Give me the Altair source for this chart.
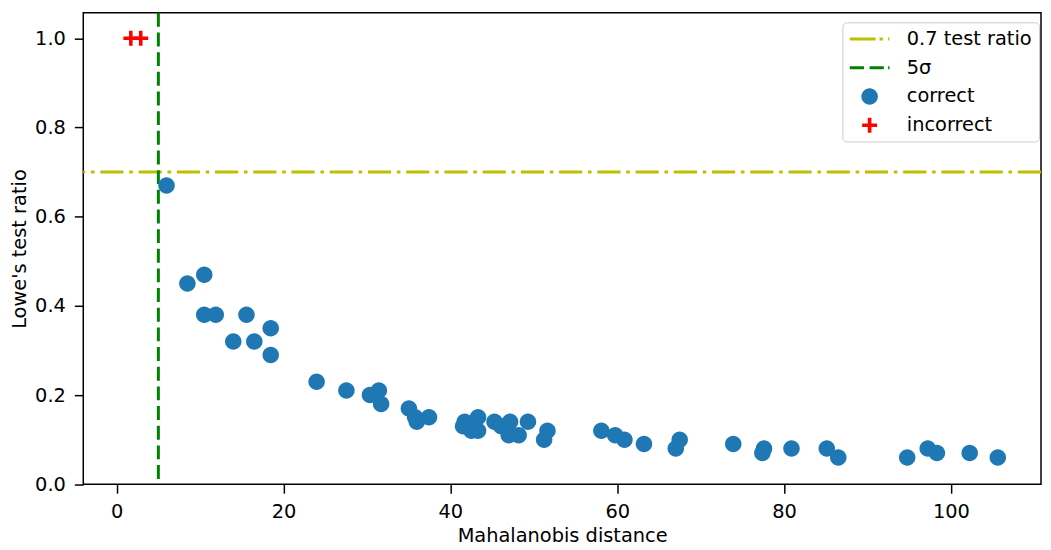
import altair as alt
import pandas as pd

# ---- data ----
correct_x = [5.98, 8.48, 10.5, 10.5, 11.88, 15.56, 13.98, 16.5, 18.47, 18.47,
             23.97, 27.54, 30.36, 31.43, 31.7, 35.03, 35.98, 35.78, 37.44,
             41.53, 41.72, 42.52, 43.32, 43.32, 45.29, 46.09, 47.16, 47.0, 48.19, 49.3, 51.64, 51.24,
             58.1, 59.76, 60.87, 63.21, 67.49, 67.02,
             73.91, 77.6, 77.4, 80.89, 85.12, 86.5,
             94.76, 97.22, 98.32, 102.25, 105.62]
correct_y = [0.67, 0.45, 0.47, 0.38, 0.38, 0.38, 0.32, 0.32, 0.35, 0.29,
             0.23, 0.21, 0.20, 0.21, 0.18, 0.17, 0.14, 0.15, 0.15,
             0.13, 0.14, 0.12, 0.12, 0.15, 0.14, 0.13, 0.14, 0.11, 0.11, 0.14, 0.12, 0.10,
             0.12, 0.11, 0.10, 0.09, 0.10, 0.08,
             0.09, 0.08, 0.07, 0.08, 0.08, 0.06,
             0.06, 0.08, 0.07, 0.07, 0.06]
incorrect_x = [1.70, 2.89]
incorrect_y = [1.0, 1.0]
ratio_threshold = [0.7]
sigma_threshold = [5.0]

series_names = ["0.7 test ratio", "5σ", "correct", "incorrect"]
series_colors = ["#bfbf00", "#008000", "#1f77b4", "#ff0000"]
x_ticks = [0, 20, 40, 60, 80, 100]
y_ticks = [0.0, 0.2, 0.4, 0.6, 0.8, 1.0]

# legend glyphs (custom symbol paths)
series_shapes = [
    "M-2,-0.15H0.6V0.15H-2Z M1.0,-0.15H1.33V0.15H1.0Z M1.86,-0.15H2V0.15H1.86Z",
    "M-2,-0.15H-0.57V0.15H-2Z M0,-0.15H1.43V0.15H0Z M1.86,-0.15H2V0.15H1.86Z",
    "M-0.83,0A0.83,0.83,0,1,1,0.83,0A0.83,0.83,0,1,1,-0.83,0Z",
    "M-0.75,-0.18H-0.18V-0.75H0.18V-0.18H0.75V0.18H0.18V0.75H-0.18V0.18H-0.75Z",
]

pts = pd.DataFrame({
    "x": correct_x + incorrect_x,
    "y": correct_y + incorrect_y,
    "series": ["correct"] * len(correct_x) + ["incorrect"] * len(incorrect_x),
})
hdf = pd.DataFrame({"y": ratio_threshold})
vdf = pd.DataFrame({"x": sigma_threshold})

FONT = "DejaVu Sans"
FS = 19.5

xscale = alt.Scale(domain=[-4.0, 110.8], nice=False, zero=False)
yscale = alt.Scale(domain=[0, 1.057], nice=False, zero=False)

common_axis = dict(grid=False, domain=False, ticks=True, tickSize=9, tickWidth=1.5,
                   tickColor="black", labelFont=FONT, labelFontSize=FS, labelColor="black",
                   labelPadding=9, titleFont=FONT, titleFontSize=FS, titleFontWeight="normal",
                   titleColor="black", labelFlush=False, labelOverlap=False)
xaxis = alt.Axis(title="Mahalanobis distance", values=x_ticks, format="d", titlePadding=6, **common_axis)
yaxis = alt.Axis(title="Lowe's test ratio", values=y_ticks, format=".1f", titlePadding=5, **common_axis)

leg = alt.Legend(
    title=None, orient="none", legendX=764.5, legendY=9.5,
    labelFont=FONT, labelFontSize=FS, labelColor="black",
    symbolSize=400, symbolStrokeWidth=0, symbolOffset=10.65, labelOffset=27.4,
    padding=6.75, rowPadding=9.0,
    strokeColor="#cccccc", fillColor="rgba(255,255,255,0.8)", cornerRadius=4,
)

hline = alt.Chart(hdf).mark_rule(
    color="#bfbf00", strokeWidth=3, strokeDash=[23.3, 5.8, 3.6, 5.8], strokeCap="butt"
).encode(y=alt.Y("y:Q", scale=yscale, axis=yaxis))

vline = alt.Chart(vdf).mark_rule(
    color="#008000", strokeWidth=3, strokeDash=[14, 5.8], strokeCap="butt"
).encode(x=alt.X("x:Q", scale=xscale, axis=xaxis))

points = alt.Chart(pts).mark_point(filled=True, size=400, opacity=1, strokeWidth=0).encode(
    x=alt.X("x:Q", scale=xscale, axis=xaxis),
    y=alt.Y("y:Q", scale=yscale, axis=yaxis),
    color=alt.Color("series:N", scale=alt.Scale(domain=series_names, range=series_colors), legend=leg),
    shape=alt.Shape("series:N", scale=alt.Scale(domain=series_names, range=series_shapes), legend=leg),
)

chart = alt.layer(hline, vline, points).properties(
    width=964.5, height=474.7,
    autosize=alt.AutoSizeParams(type="none"),
    padding={"left": 75.8, "top": 3, "right": 2, "bottom": 62},
    background="white",
).configure_view(stroke="black", strokeWidth=1.5)

chart.save("out.html", embed_options={"renderer": "svg", "actions": False})
